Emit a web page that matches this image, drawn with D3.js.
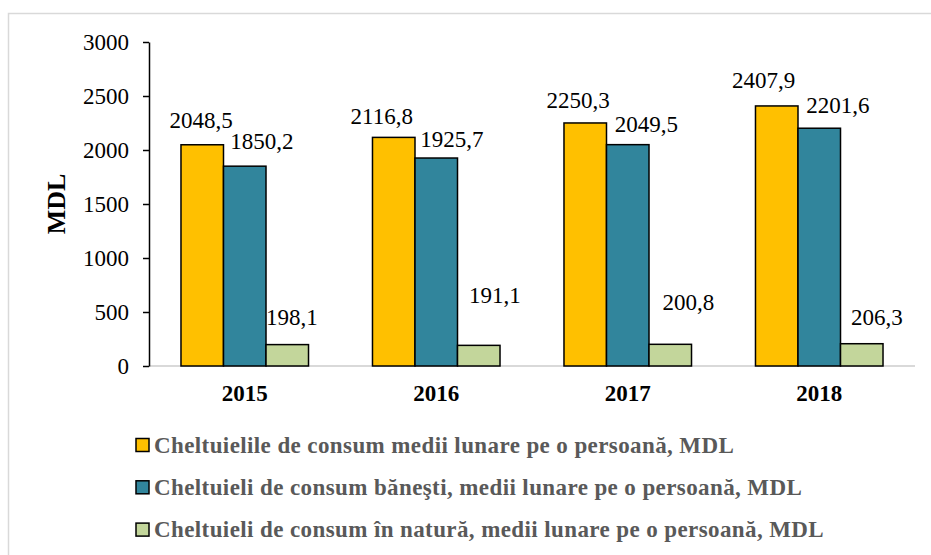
<!DOCTYPE html>
<html>
<head>
<meta charset="utf-8">
<script src="https://cdn.jsdelivr.net/npm/d3@7"></script>
<style>
  body { margin: 0; background: #fff; }
  svg { display: block; }
  svg text { font-family: "Liberation Serif", "Tinos", "DejaVu Serif", "Noto Serif", serif; }
</style>
</head>
<body>
<svg id="chart" width="931" height="555"></svg>
<script>
const years = ["2015", "2016", "2017", "2018"];
const seriesNames = [
    "Cheltuielile de consum medii lunare pe o persoană, MDL",
    "Cheltuieli de consum băneşti, medii lunare pe o persoană, MDL",
    "Cheltuieli de consum în natură, medii lunare pe o persoană, MDL"
];
const totalSpend = [2048.5, 2116.8, 2250.3, 2407.9];
const cashSpend = [1850.2, 1925.7, 2049.5, 2201.6];
const inKindSpend = [198.1, 191.1, 200.8, 206.3];
const yTicks = [0, 500, 1000, 1500, 2000, 2500, 3000];

const colors = ["#FFC000", "#31859C", "#C3D69B"];
// hand-placed label nudges (dx, distance above bar top), as in the original
const labelNudge = [
    [[-1, 17], [-12, 13], [-7, 15], [-13, 18]],
    [[17, 17], [15.5, 11], [18.5, 12.5], [18.5, 15]],
    [[4.5, 19.5], [16, 42], [18, 34], [15, 19]]
];

const series = [totalSpend, cashSpend, inKindSpend];
const svg = d3.select("#chart");

// outer frame
svg.append("rect")
    .attr("x", 8.5).attr("y", 13.5)
    .attr("width", 940).attr("height", 560)
    .attr("fill", "none")
    .attr("stroke", "#d9d9d9")
    .attr("stroke-width", 1.5);

const plot = { left: 149, right: 915, top: 42, bottom: 366 };

const x = d3.scaleBand()
    .domain(years)
    .range([plot.left, plot.right])
    .paddingInner(0.334)
    .paddingOuter(0.167);

const xSub = d3.scaleBand()
    .domain(d3.range(series.length))
    .range([0, x.bandwidth()]);

const y = d3.scaleLinear()
    .domain([0, 3000])
    .range([plot.bottom, plot.top]);

// x baseline
svg.append("line")
    .attr("x1", plot.left).attr("x2", plot.right)
    .attr("y1", y(0)).attr("y2", y(0))
    .attr("stroke", "#d9d9d9")
    .attr("stroke-width", 2);

// y axis
const yAxis = svg.append("g")
    .attr("transform", `translate(${plot.left},0)`)
    .call(d3.axisLeft(y).tickValues(yTicks).tickFormat(d3.format("d"))
        .tickSize(6).tickPadding(14).tickSizeOuter(0));
yAxis.attr("font-family", null);
yAxis.select(".domain").attr("stroke", "#000").attr("stroke-width", 1.5);
yAxis.selectAll(".tick line").attr("stroke", "#000").attr("stroke-width", 1.5);
yAxis.selectAll(".tick text")
    .style("font-size", "23px")
    .attr("fill", "#000");

svg.append("text")
    .attr("transform", `translate(65,204) rotate(-90)`)
    .attr("text-anchor", "middle")
    .style("font-weight", "bold")
    .style("font-size", "26px")
    .text("MDL");

// bars
series.forEach((vals, s) => {
    const g = svg.append("g");
    g.selectAll("rect")
        .data(vals)
        .join("rect")
        .attr("x", (d, i) => x(years[i]) + xSub(s))
        .attr("y", d => y(d))
        .attr("width", xSub.bandwidth())
        .attr("height", d => y(0) - y(d))
        .attr("fill", colors[s])
        .attr("stroke", "#000")
        .attr("stroke-width", 1.5);

    g.selectAll("text")
        .data(vals)
        .join("text")
        .attr("x", (d, i) => x(years[i]) + xSub(s) + xSub.bandwidth() / 2 + labelNudge[s][i][0])
        .attr("y", (d, i) => y(d) - labelNudge[s][i][1])
        .attr("text-anchor", "middle")
        .style("font-size", "23px")
        .attr("fill", "#000")
        .text(d => d.toFixed(1).replace(".", ","));
});

// category labels
svg.append("g")
    .selectAll("text")
    .data(years)
    .join("text")
    .attr("x", d => x(d) + x.bandwidth() / 2)
    .attr("y", 401)
    .attr("text-anchor", "middle")
    .style("font-weight", "bold")
    .style("font-size", "23px")
    .text(d => d);

// legend
const legend = svg.append("g")
    .selectAll("g")
    .data(seriesNames)
    .join("g")
    .attr("transform", (d, i) => `translate(136,${438.5 + i * 42.3})`);

legend.append("rect")
    .attr("width", 13).attr("height", 13)
    .attr("fill", (d, i) => colors[i])
    .attr("stroke", "#000")
    .attr("stroke-width", 1.5);

legend.append("text")
    .attr("x", 18)
    .attr("y", 14)
    .style("font-weight", "bold")
    .style("font-size", "23px")
    .style("letter-spacing", "0.4px")
    .attr("fill", "#595959")
    .text(d => d);
</script>
</body>
</html>
